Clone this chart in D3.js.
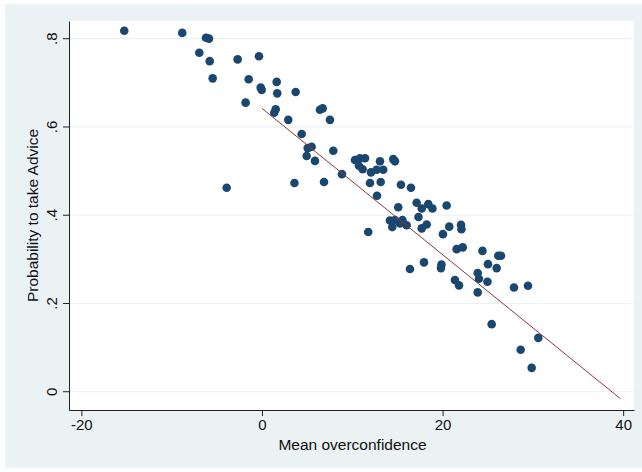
<!DOCTYPE html>
<html><head><meta charset="utf-8">
<script src="https://cdn.jsdelivr.net/npm/d3@7"></script>
<style>body{margin:0;background:#fff}svg{display:block}text{font-family:"Liberation Sans",Arial,sans-serif;fill:#111}</style>
</head><body><svg id="c" width="642" height="472"></svg>
<script>
const overconfidence = [-15.25,-8.83,-6.20,-5.87,-6.94,-5.79,-2.69,-0.33,-5.46,-1.47,1.63,-0.14,-0.03,1.69,3.73,-1.81,1.52,1.36,2.91,6.42,6.72,7.53,4.40,5.06,5.50,4.95,5.87,7.90,-3.91,3.60,6.87,8.86,10.30,10.85,11.41,10.74,11.15,13.07,12.07,12.70,13.43,14.54,14.73,11.96,13.15,15.39,16.50,12.74,15.09,17.13,17.69,18.42,18.88,20.45,17.33,14.17,14.73,15.56,16.02,14.43,15.28,17.69,18.24,11.77,20.04,20.74,22.04,22.09,21.56,22.23,24.42,26.17,26.47,16.39,17.94,19.88,19.82,21.37,21.82,23.89,24.03,25.03,25.99,24.97,23.89,27.91,29.46,25.44,30.60,28.65,29.87];
const probAdvice = [0.817,0.812,0.801,0.799,0.767,0.748,0.752,0.759,0.709,0.707,0.701,0.688,0.683,0.675,0.678,0.654,0.639,0.631,0.615,0.638,0.641,0.615,0.583,0.551,0.554,0.533,0.522,0.545,0.461,0.472,0.474,0.492,0.524,0.528,0.528,0.511,0.503,0.521,0.496,0.502,0.502,0.526,0.521,0.472,0.474,0.468,0.461,0.443,0.417,0.427,0.414,0.424,0.414,0.421,0.395,0.387,0.388,0.388,0.376,0.372,0.380,0.369,0.378,0.361,0.356,0.373,0.377,0.367,0.322,0.326,0.318,0.307,0.307,0.277,0.292,0.287,0.279,0.252,0.240,0.268,0.255,0.288,0.279,0.248,0.224,0.235,0.239,0.152,0.121,0.094,0.053];
const fitX = [0, 39.7];
const fitY = [0.641, -0.017];
const xTicks = [-20, 0, 20, 40];
const xTickLabels = ["-20", "0", "20", "40"];
const yTicks = [0, 0.2, 0.4, 0.6, 0.8];
const yTickLabels = ["0", ".2", ".4", ".6", ".8"];
const xTitle = "Mean overconfidence";
const yTitle = "Probability to take Advice";

const svg = d3.select("#c");
const L = 69, T = 21, R = 634, B = 410;
svg.append("rect").attr("x",5).attr("y",4).attr("width",637).attr("height",464).attr("fill","#eaf2f3");
svg.append("rect").attr("x",L).attr("y",T).attr("width",R-L).attr("height",B-T).attr("fill","#fff");

const x = d3.scaleLinear().domain([-21.37, 41.2]).range([L, R]);
const y = d3.scaleLinear().domain([-0.0425, 0.839]).range([B, T]);

// gridlines
svg.append("g").selectAll("line").data(yTicks).join("line")
  .attr("x1",L).attr("x2",R).attr("y1",d=>y(d)+0.5).attr("y2",d=>y(d)+0.5)
  .attr("stroke","#eaf2f3").attr("stroke-width",1.2);

// points
svg.append("g").selectAll("circle").data(overconfidence.map((v,i)=>[v,probAdvice[i]])).join("circle")
  .attr("cx",d=>x(d[0])).attr("cy",d=>y(d[1])).attr("r",4.3).attr("fill","#1a476f");

// fit line
svg.append("line").attr("x1",x(fitX[0])).attr("y1",y(fitY[0])).attr("x2",x(fitX[1])).attr("y2",y(fitY[1]))
  .attr("stroke","#90353b").attr("stroke-width",1);

// axes
const xa = svg.append("g").attr("transform",`translate(0,${B})`)
  .call(d3.axisBottom(x).tickValues(xTicks).tickFormat((d,i)=>xTickLabels[i]).tickSize(6).tickSizeOuter(0));
const ya = svg.append("g").attr("transform",`translate(${L},0)`)
  .call(d3.axisLeft(y).tickValues(yTicks).tickFormat((d,i)=>yTickLabels[i]).tickSize(6).tickSizeOuter(0));
[xa,ya].forEach(a=>{a.select(".domain").attr("stroke","#222");a.selectAll(".tick line").attr("stroke","#222");
  a.selectAll("text").attr("font-family","'Liberation Sans',Arial,sans-serif").attr("font-size",15).attr("fill","#111");});
xa.selectAll("text").attr("dy","0.9em").attr("y",6);
ya.selectAll("text").attr("transform","rotate(-90)").attr("x",0).attr("y",-12).attr("dy",0).attr("text-anchor","middle");

svg.append("text").attr("x",(L+R)/2+1).attr("y",450).attr("text-anchor","middle").attr("font-size",15.5).text(xTitle);
svg.append("text").attr("transform",`translate(38,${(T+B)/2+0}) rotate(-90)`).attr("text-anchor","middle").attr("font-size",15.5).text(yTitle);
</script></body></html>
